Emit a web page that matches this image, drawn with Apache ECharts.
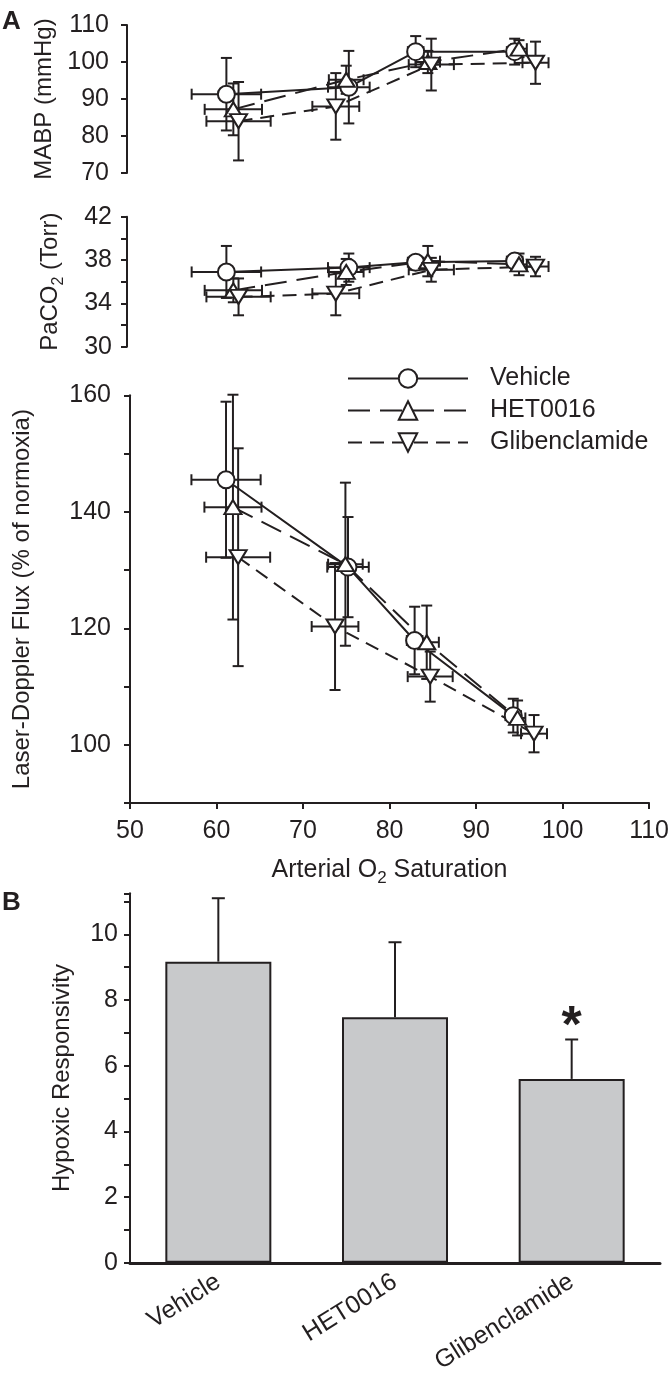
<!DOCTYPE html>
<html><head><meta charset="utf-8">
<script src="https://cdn.jsdelivr.net/npm/echarts@6/dist/echarts.min.js"></script>
<style>html,body{margin:0;padding:0;background:#fff}#c{width:672px;height:1376px}</style>
</head><body><div id="c"></div>
<script>
// ---------- DATA ----------
const groupNames = ['Vehicle', 'HET0016', 'Glibenclamide'];

// Arterial O2 saturation (x) and its SE, per group (same for all three panels)
const o2Vehicle   = [61.1, 75.2, 82.9, 94.3];
const o2VehicleSE = [4.0, 2.4, 0.9, 0.9];
const o2Het       = [61.9, 74.9, 84.3, 94.8];
const o2HetSE     = [3.3, 2.0, 1.4, 0.9];
const o2Glib      = [62.5, 73.7, 84.7, 96.7];
const o2GlibSE    = [3.7, 2.7, 2.6, 1.5];

// MABP (mmHg)
const mabpVehicle   = [91.3, 93.2, 102.8, 102.8];
const mabpVehicleSE = [9.8, 9.8, 4.2, 3.5];
const mabpHet       = [87.2, 95.2, 100.0, 103.6];
const mabpHetSE     = [7.0, 3.8, 3.0, 2.3];
const mabpGlib      = [84.0, 88.0, 99.3, 99.8];
const mabpGlibSE    = [10.6, 9.0, 7.0, 5.7];

// PaCO2 (Torr)
const pco2Vehicle   = [36.9, 37.3, 37.8, 37.9];
const pco2VehicleSE = [2.4, 1.3, 0.5, 0.6];
const pco2Het       = [35.2, 36.9, 37.9, 37.6];
const pco2HetSE     = [1.1, 1.2, 1.4, 1.0];
const pco2Glib      = [34.6, 34.9, 37.1, 37.4];
const pco2GlibSE    = [1.7, 2.0, 1.1, 0.9];

// Laser-Doppler flux (% of normoxia)
const ldfVehicle   = [145.5, 130.5, 117.9, 105.0];
const ldfVehicleSE = [13.4, 8.6, 5.8, 2.9];
const ldfHet       = [140.8, 131.0, 117.6, 104.6];
const ldfHetSE     = [19.3, 14.0, 6.3, 3.0];
const ldfGlib      = [132.2, 120.3, 111.7, 101.9];
const ldfGlibSE    = [18.7, 10.9, 4.3, 3.2];

// Panel B: hypoxic responsivity
const barCats = ['Vehicle', 'HET0016', 'Glibenclamide'];
const barVals = [9.17, 7.48, 5.6];
const barSE   = [1.93, 2.28, 1.2];
const barSig  = ['', '', '*'];

// tick labels
const mabpTicks = [70, 80, 90, 100, 110];
const pco2Labels = [30, 34, 38, 42];
const ldfLabels = [100, 120, 140, 160];
const o2Ticks = [50, 60, 70, 80, 90, 100, 110];
const barLabels = [0, 2, 4, 6, 8, 10];

// ---------- STYLE ----------
const INK = '#231f20';
const FONT = "'Liberation Sans', Arial, sans-serif";
const FS = 25;
const groupStyle = [
  { symbol: 'circle', size: 17, dash: 'solid' },
  { symbol: 'triangle', size: [17, 14], dash: [22, 10] },
  { symbol: 'path://M0,0L20,0L10,17Z', size: [17, 14], dash: [14, 8] }
];

const xs   = [o2Vehicle, o2Het, o2Glib];
const xse  = [o2VehicleSE, o2HetSE, o2GlibSE];
const panels = [
  { ys: [mabpVehicle, mabpHet, mabpGlib], yse: [mabpVehicleSE, mabpHetSE, mabpGlibSE] },
  { ys: [pco2Vehicle, pco2Het, pco2Glib], yse: [pco2VehicleSE, pco2HetSE, pco2GlibSE] },
  { ys: [ldfVehicle, ldfHet, ldfGlib], yse: [ldfVehicleSE, ldfHetSE, ldfGlibSE] }
];

function st() { return { stroke: INK, lineWidth: 2, fill: null }; }
function ln(x1, y1, x2, y2) { return { type: 'line', shape: { x1, y1, x2, y2 }, style: st() }; }

function errRender(params, api) {
  const x = api.value(0), y = api.value(1), ex = api.value(2), ey = api.value(3);
  const t = api.coord([x, y + ey]), b = api.coord([x, y - ey]);
  const l = api.coord([x - ex, y]), r = api.coord([x + ex, y]);
  const h = 5.5;
  return { type: 'group', children: [
    ln(t[0], t[1], b[0], b[1]),
    ln(t[0] - h, t[1], t[0] + h, t[1]),
    ln(b[0] - h, b[1], b[0] + h, b[1]),
    ln(l[0], l[1], r[0], r[1]),
    ln(l[0], l[1] - h, l[0], l[1] + h),
    ln(r[0], r[1] - h, r[0], r[1] + h)
  ]};
}

function barErrRender(params, api) {
  const i = api.value(0), v = api.value(1), e = api.value(2);
  const base = api.coord([i, v]), top = api.coord([i, v + e]);
  const h = 6.5;
  const children = [
    ln(base[0], base[1], top[0], top[1]),
    ln(top[0] - h, top[1], top[0] + h, top[1])
  ];
  const sig = barSig[params.dataIndex];
  if (sig) {
    children.push({ type: 'text', x: top[0], y: top[1] + 14,
      style: { text: sig, fill: INK, fontSize: 52, fontWeight: 'bold', fontFamily: FONT,
               align: 'center', verticalAlign: 'bottom' } });
  }
  return { type: 'group', children };
}

const series = [];
panels.forEach((p, pi) => {
  for (let g = 0; g < 3; g++) {
    series.push({
      type: 'custom', xAxisIndex: pi, yAxisIndex: pi, z: 2, silent: true,
      renderItem: errRender, encode: { x: 0, y: 1 },
      data: xs[g].map((x, i) => [x, p.ys[g][i], xse[g][i], p.yse[g][i]])
    });
  }
  for (let g = 0; g < 3; g++) {
    const s = groupStyle[g];
    series.push({
      type: 'line', name: groupNames[g], xAxisIndex: pi, yAxisIndex: pi, z: 3,
      symbol: s.symbol, symbolSize: s.size, showSymbol: true,
      itemStyle: { color: '#fff', borderColor: INK, borderWidth: 2 },
      lineStyle: { color: INK, width: 2, type: s.dash },
      data: xs[g].map((x, i) => [x, p.ys[g][i]])
    });
  }
});

series.push({
  type: 'bar', xAxisIndex: 3, yAxisIndex: 3, barWidth: '60%', z: 2,
  itemStyle: { color: '#c8c9cb', borderColor: INK, borderWidth: 2 },
  data: barVals
});
series.push({
  type: 'custom', xAxisIndex: 3, yAxisIndex: 3, z: 3, silent: true,
  renderItem: barErrRender, encode: { x: 0, y: 1 },
  data: barVals.map((v, i) => [i, v, barSE[i]])
});

const axisLine = { show: true, lineStyle: { color: INK, width: 2 } };
const axisTick = { show: true, inside: false, length: 6, lineStyle: { color: INK, width: 2 } };
const lbl = (extra) => Object.assign({ color: INK, fontSize: FS, fontFamily: FONT }, extra);
const nameStyle = { color: INK, fontSize: 24, fontFamily: FONT };
const subRich = {
  a: { fontSize: FS, fontFamily: FONT, color: INK, lineHeight: 34, verticalAlign: 'middle' },
  s: { fontSize: 17, fontFamily: FONT, color: INK, lineHeight: 34, verticalAlign: 'bottom' }
};
const subRichV = {
  a: { fontSize: 24, fontFamily: FONT, color: INK, lineHeight: 34, verticalAlign: 'middle' },
  s: { fontSize: 16, fontFamily: FONT, color: INK, lineHeight: 34, verticalAlign: 'bottom' }
};

const hiddenX = (gi) => ({ type: 'value', gridIndex: gi, min: 50, max: 110, show: false });

const option = {
  animation: false,
  backgroundColor: '#fff',
  textStyle: { fontFamily: FONT, color: INK },
  grid: [
    { left: 130, width: 521, top: 25, height: 148 },
    { left: 130, width: 521, top: 216.7, height: 130 },
    { left: 130, width: 521, top: 395.3, height: 407.7 },
    { left: 130, width: 530, top: 893.3, height: 373.4 }
  ],
  legend: {
    data: groupNames, orient: 'vertical', left: 342, top: 361,
    itemWidth: 120, itemHeight: 23, itemGap: 7, selectedMode: false,
    textStyle: { color: INK, fontSize: FS, fontFamily: FONT, padding: [0, 0, 0, 17] }
  },
  xAxis: [
    hiddenX(0), hiddenX(1),
    { type: 'value', gridIndex: 2, min: o2Ticks[0], max: o2Ticks[o2Ticks.length - 1], interval: 10,
      splitLine: { show: false }, axisLine, axisTick,
      axisLabel: lbl({ margin: 16 }),
      name: '{a|Arterial O}{s|2}{a| Saturation}', nameLocation: 'middle', nameGap: 50,
      nameTextStyle: { rich: subRich } },
    { type: 'category', gridIndex: 3, data: barCats,
      axisLine: { show: true, lineStyle: { color: INK, width: 3 } }, axisTick: { show: false },
      axisLabel: lbl({ rotate: 32, margin: 17, interval: 0 }) }
  ],
  yAxis: [
    { type: 'value', gridIndex: 0, min: mabpTicks[0], max: mabpTicks[mabpTicks.length - 1], interval: 10,
      offset: 3, splitLine: { show: false }, axisLine, axisTick,
      axisLabel: lbl({ margin: 18 }),
      name: 'MABP (mmHg)', nameLocation: 'middle', nameGap: 64, nameTextStyle: nameStyle },
    { type: 'value', gridIndex: 1, min: pco2Labels[0], max: pco2Labels[pco2Labels.length - 1], interval: 2,
      offset: 3, splitLine: { show: false }, axisLine, axisTick,
      axisLabel: lbl({ margin: 15, formatter: v => pco2Labels.includes(v) ? String(v) : '' }),
      name: '{a|PaCO}{s|2}{a| (Torr)}', nameLocation: 'middle', nameGap: 60,
      nameTextStyle: { rich: subRichV } },
    { type: 'value', gridIndex: 2, min: 90, max: ldfLabels[ldfLabels.length - 1], interval: 10,
      splitLine: { show: false }, axisLine, axisTick,
      axisLabel: lbl({ margin: 19, formatter: v => ldfLabels.includes(v) ? String(v) : '' }),
      name: 'Laser-Doppler Flux (% of normoxia)', nameLocation: 'middle', nameGap: 96, nameTextStyle: nameStyle },
    { type: 'value', gridIndex: 3, min: 0, max: 11.25, interval: 1,
      splitLine: { show: false }, axisLine, axisTick,
      axisLabel: lbl({ margin: 12, formatter: v => barLabels.includes(v) ? String(v) : '' }),
      name: 'Hypoxic Responsivity', nameLocation: 'middle', nameGap: 56, nameTextStyle: nameStyle }
  ],
  graphic: [
    { type: 'text', left: 2, top: 9, style: { text: 'A', fill: INK, fontSize: 26, fontWeight: 'bold', fontFamily: FONT } },
    { type: 'text', left: 2, top: 890, style: { text: 'B', fill: INK, fontSize: 26, fontWeight: 'bold', fontFamily: FONT } }
  ],
  series
};

const chart = echarts.init(document.getElementById('c'), null, { renderer: 'canvas' });
chart.setOption(option);
</script>
</body></html>
